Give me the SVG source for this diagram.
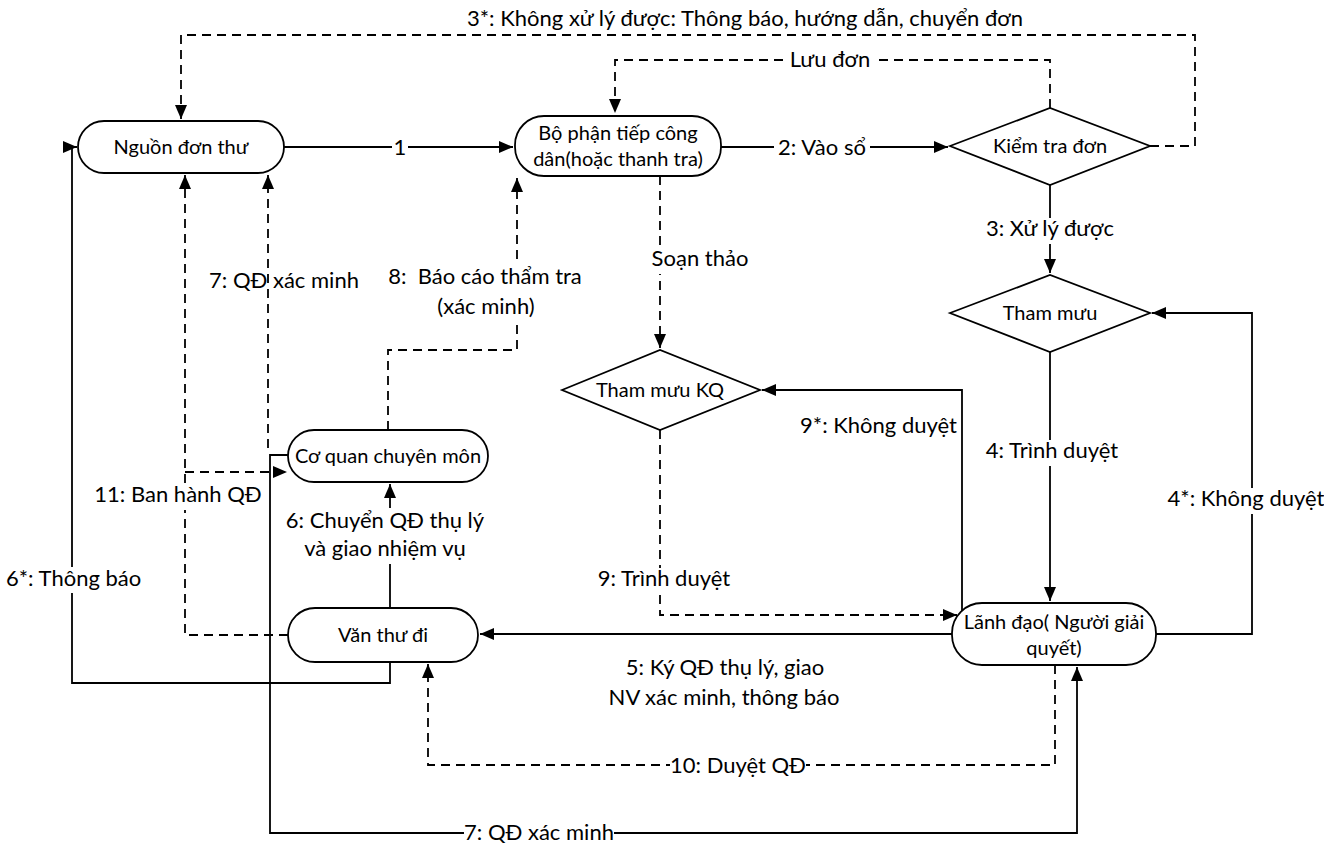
<svg xmlns="http://www.w3.org/2000/svg" width="1324" height="848" viewBox="0 0 1324 848">
<style>
  .node { fill: #fff; stroke: #000; stroke-width: 1.8; }
  .nt { font-family: Lato, "Liberation Sans", sans-serif; font-size: 20px; fill: #000; text-anchor: middle; }
  .lb { font-family: Lato, "Liberation Sans", sans-serif; font-size: 22px; fill: #000; text-anchor: middle; }
  .gap { fill: #fff; stroke: none; }
  .c { fill: none; stroke: #000; stroke-width: 1.8; }
  .d { stroke-dasharray: 9 6; }
</style>
<defs>
  <marker id="ar" markerUnits="userSpaceOnUse" markerWidth="14" markerHeight="12" viewBox="0 0 14 12" refX="14" refY="6" orient="auto-start-reverse">
    <path d="M0,0 L14,6 L0,12 z" fill="#000"/>
  </marker>
</defs>
<rect width="1324" height="848" fill="#fff"/>

<g id="connectors">
  <path class="c" d="M284,147 H513" marker-end="url(#ar)"/>
  <path class="c" d="M721,147 H948" marker-end="url(#ar)"/>
  <path class="c d" d="M1050,108 V60 H615 V113" marker-end="url(#ar)"/>
  <path class="c d" d="M1150,146 H1195 V35 H181 V119" marker-end="url(#ar)"/>
  <path class="c" d="M1050,185 V273" marker-end="url(#ar)"/>
  <path class="c" d="M1050,352 V601" marker-end="url(#ar)"/>
  <path class="c" d="M1156,634 H1252 V313 H1152" marker-end="url(#ar)"/>
  <path class="c d" d="M660,176 V348" marker-end="url(#ar)"/>
  <path class="c" d="M962,611 V390 H762" marker-end="url(#ar)"/>
  <path class="c d" d="M660,430 V615 H957" marker-end="url(#ar)"/>
  <path class="c" d="M952,634 H480" marker-end="url(#ar)"/>
  <path class="c d" d="M1055,665 V765 H428 V664" marker-end="url(#ar)"/>
  <path class="c" d="M1077,667 V833 H270 V455 H289" marker-start="url(#ar)"/>
  <path class="c d" d="M268,448 V175" marker-end="url(#ar)"/>
  <path class="c" d="M390,662 V683 H72 V147 H77" marker-end="url(#ar)"/>
  <path class="c" d="M390,608 V484" marker-end="url(#ar)"/>
  <path class="c d" d="M388,430 V350 H517 V178" marker-end="url(#ar)"/>
  <path class="c d" d="M288,635 H185 V175" marker-end="url(#ar)"/>
  <path class="c d" d="M185,472 H287" marker-end="url(#ar)"/>
</g>

<g id="labels">
  <rect class="gap" x="786" y="50" width="88" height="24"/>
  <rect class="gap" x="392" y="138" width="16" height="22"/>
  <rect class="gap" x="774" y="136" width="96" height="24"/>
  <rect class="gap" x="982" y="218" width="136" height="26"/>
  <rect class="gap" x="648" y="248" width="104" height="26"/>
  <rect class="gap" x="505" y="262" width="26" height="60"/>
  <rect class="gap" x="984" y="440" width="136" height="26"/>
  <rect class="gap" x="1240" y="488" width="24" height="26"/>
  <rect class="gap" x="175" y="484" width="20" height="26"/>
  <rect class="gap" x="380" y="508" width="20" height="56"/>
  <rect class="gap" x="62" y="567" width="20" height="26"/>
  <rect class="gap" x="650" y="568" width="20" height="26"/>
  <rect class="gap" x="670" y="755" width="136" height="26"/>
  <rect class="gap" x="464" y="822" width="150" height="22"/>

  <text class="lb" x="745" y="26">3*: Không xử lý được: Thông báo, hướng dẫn, chuyển đơn</text>
  <text class="lb" x="830" y="67">Lưu đơn</text>
  <text class="lb" x="400" y="155">1</text>
  <text class="lb" x="822" y="155">2: Vào sổ</text>
  <text class="lb" x="1050" y="236">3: Xử lý được</text>
  <text class="lb" x="700" y="266">Soạn thảo</text>
  <text class="lb" x="284" y="288">7: QĐ xác minh</text>
  <text class="lb" x="485" y="284" xml:space="preserve">8:  Báo cáo thẩm tra</text>
  <text class="lb" x="486" y="314">(xác minh)</text>
  <text class="lb" x="957" y="433" style="text-anchor:end">9*: Không duyệt</text>
  <text class="lb" x="1052" y="458">4: Trình duyệt</text>
  <text class="lb" x="1246" y="506">4*: Không duyệt</text>
  <text class="lb" x="178" y="502">11: Ban hành QĐ</text>
  <text class="lb" x="385" y="528">6: Chuyển QĐ thụ lý</text>
  <text class="lb" x="385" y="556">và giao nhiệm vụ</text>
  <text class="lb" x="6" y="586" style="text-anchor:start">6*: Thông báo</text>
  <text class="lb" x="664" y="586">9: Trình duyệt</text>
  <text class="lb" x="725" y="675">5: Ký QĐ thụ lý, giao</text>
  <text class="lb" x="724" y="705">NV xác minh, thông báo</text>
  <text class="lb" x="738" y="773">10: Duyệt QĐ</text>
  <text class="lb" x="539" y="840">7: QĐ xác minh</text>
</g>

<g id="nguon-don-thu">
  <rect class="node" x="78" y="121" width="206" height="52" rx="26"/>
  <text class="nt" x="181" y="154">Nguồn đơn thư</text>
</g>
<g id="bo-phan-tiep-cong-dan">
  <rect class="node" x="515" y="116" width="206" height="60" rx="29"/>
  <text class="nt" x="618" y="140">Bộ phận tiếp công</text>
  <text class="nt" x="618" y="166">dân(hoặc thanh tra)</text>
</g>
<g id="kiem-tra-don">
  <polygon class="node" points="950,146 1050,108 1150,146 1050,185"/>
  <text class="nt" x="1050" y="153">Kiểm tra đơn</text>
</g>
<g id="tham-muu">
  <polygon class="node" points="950,313 1050,275 1150,313 1050,352"/>
  <text class="nt" x="1050" y="320">Tham mưu</text>
</g>
<g id="tham-muu-kq">
  <polygon class="node" points="562,390 660,350 760,390 660,430"/>
  <text class="nt" x="660" y="397">Tham mưu KQ</text>
</g>
<g id="co-quan-chuyen-mon">
  <rect class="node" x="288" y="430" width="200" height="52" rx="26"/>
  <text class="nt" x="388" y="463">Cơ quan chuyên môn</text>
</g>
<g id="van-thu-di">
  <rect class="node" x="288" y="608" width="190" height="54" rx="27"/>
  <text class="nt" x="383" y="642">Văn thư đi</text>
</g>
<g id="lanh-dao">
  <rect class="node" x="952" y="603" width="204" height="62" rx="30"/>
  <text class="nt" x="1054" y="629">Lãnh đạo( Người giải</text>
  <text class="nt" x="1054" y="655">quyết)</text>
</g>
</svg>
